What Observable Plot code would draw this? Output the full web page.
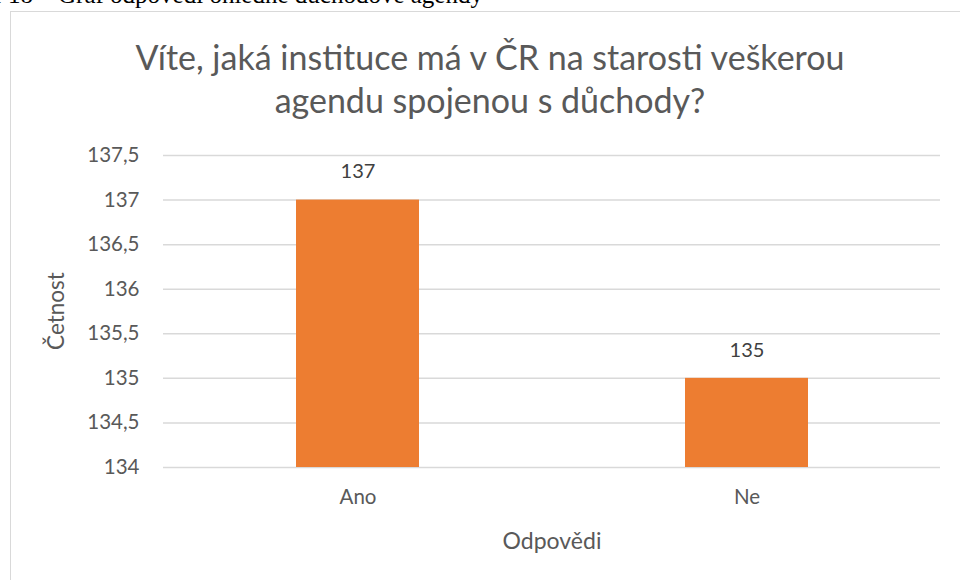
<!DOCTYPE html>
<html><head><meta charset="utf-8">
<script src="https://cdn.jsdelivr.net/npm/d3@7"></script>
<script src="https://cdn.jsdelivr.net/npm/@observablehq/plot@0.6"></script>
<style>
html,body{margin:0;padding:0;background:#fff;width:960px;height:580px;overflow:hidden;position:relative;}
#cap{position:absolute;left:-44px;top:-19px;font-family:"Liberation Serif","Times New Roman",serif;font-size:25px;color:#000;white-space:nowrap;}
#box{position:absolute;left:10px;top:11px;width:980px;height:600px;border:1.5px solid #d9d9d9;box-sizing:border-box;}
#title{position:absolute;left:10px;top:35px;width:960px;text-align:center;font-family:Lato,"Open Sans",sans-serif;font-size:34px;line-height:43px;color:#595959;}
#chart{position:absolute;left:0;top:130px;}
</style></head>
<body>
<div id="cap">Graf 18 – Graf odpovědí ohledně důchodové agendy</div>
<div id="box"></div>
<div id="title">Víte, jaká instituce má v ČR na starosti veškerou<br>agendu spojenou s důchody?</div>
<div id="chart"></div>
<script>
const categories = ["Ano", "Ne"];
const values = [137, 135];
const yTicks = [134, 134.5, 135, 135.5, 136, 136.5, 137, 137.5];
const yMin = 134, yMax = 137.5;

const data = categories.map((c, i) => ({answer: c, value: values[i]}));
const fmt = d => String(d).replace(".", ",");
const FONT = "Lato, 'Open Sans', sans-serif";

const chart = Plot.plot({
  width: 960,
  height: 450,
  marginTop: 25,
  marginBottom: 113,
  marginLeft: 163,
  marginRight: 20,
  style: {fontFamily: FONT, color: "#595959", background: "transparent"},
  x: {domain: categories, paddingInner: 0.685, paddingOuter: 0.34, label: null},
  y: {domain: [yMin, yMax], label: null},
  marks: [
    Plot.ruleY(yTicks, {stroke: "#d9d9d9", strokeWidth: 1.5}),
    Plot.barY(data, {x: "answer", y1: () => yMin, y2: "value", fill: "#ed7d31"}),
    Plot.text(data, {x: "answer", y: "value", text: d => fmt(d.value), dy: -28, fontSize: 20, fill: "#404040"}),
    Plot.axisX({tickSize: 0, tickPadding: 22, fontSize: 20.5, label: null}),
    Plot.axisY({ticks: yTicks, tickFormat: fmt, tickSize: 0, tickPadding: 24, fontSize: 20.5, label: null})
  ]
});
document.getElementById("chart").appendChild(chart);

const svg = d3.select(chart);
svg.append("text").text("Četnost")
  .attr("transform", `translate(64,${311-130}) rotate(-90)`)
  .attr("text-anchor", "middle").attr("font-size", 22.5).attr("fill", "#595959")
  .attr("font-family", FONT);
svg.append("text").text("Odpovědi")
  .attr("x", 552).attr("y", 549 - 130)
  .attr("text-anchor", "middle").attr("font-size", 23).attr("fill", "#595959")
  .attr("font-family", FONT);
</script>
</body></html>
